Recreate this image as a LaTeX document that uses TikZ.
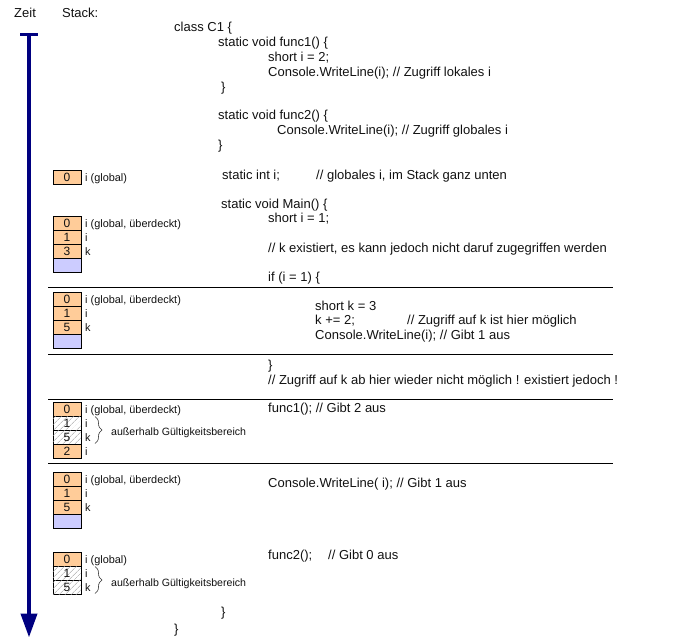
\documentclass[tikz,border=0pt]{standalone}
\usepackage{fontspec}
\setmainfont{Liberation Sans}
\usetikzlibrary{arrows.meta,patterns.meta,decorations.pathreplacing}
\definecolor{cellorange}{HTML}{FFCC99}
\definecolor{cellblue}{HTML}{CCCCFF}
\definecolor{timenavy}{HTML}{000080}
\definecolor{txt}{HTML}{111111}
\tikzset{
  code/.style={anchor=base west, inner sep=0pt, text=txt, font=\fontsize{13}{15}\selectfont},
  lbl/.style={anchor=base west, inner sep=0pt, text=txt, font=\fontsize{10.9}{12}\selectfont},
  note/.style={anchor=base west, inner sep=0pt, text=txt, font=\fontsize{10.6}{12}\selectfont},
  cell/.style={draw=black, line width=0.8pt, minimum width=28pt, minimum height=14pt, inner sep=0pt, anchor=north west, text=txt, font=\fontsize{12}{12}\selectfont},
  oc/.style={cell, fill=cellorange},
  bc/.style={cell, fill=cellblue},
  hc/.style={cell, fill=white, postaction={pattern={Lines[angle=45,distance=4pt,line width=0.5pt]}, pattern color=gray!75}},
  sep/.style={draw=black, line width=1pt},
  brc/.style={draw=black!80, line width=0.6pt, decorate, decoration={brace, amplitude=7pt}},
}
\begin{document}
\begin{tikzpicture}[x=1pt,y=-1pt]
\useasboundingbox (0,0) rectangle (680,643);
% time axis
\node[code] (zeit) at (14,17) {Zeit};
\node[code] (stack) at (62,17) {Stack:};
\coordinate (tstart) at (29,34.5);
\coordinate (tend) at (29,637.5);
\coordinate (barl) at (20,34.5);
\coordinate (barr) at (37.5,34.5);
\draw[timenavy, line width=4pt, -{Triangle[width=16pt,length=24pt]}] (tstart) -- (tend);
\draw[timenavy, line width=3pt] (barl) -- (barr);
% code
\node[code] (c1) at (174,31) {class C1 \{};
\node[code] (c2) at (218,46) {static void func1() \{};
\node[code] (c3) at (268,61) {short i = 2;};
\node[code] (c4) at (268,76) {Console.WriteLine(i); // Zugriff lokales i};
\node[code] (c5) at (221,91) {\}};
\node[code] (c6) at (218,119) {static void func2() \{};
\node[code] (c7) at (277,134) {Console.WriteLine(i); // Zugriff globales i};
\node[code] (c8) at (218,149) {\}};
\node[code] (c9) at (222,179) {static int i;};
\node[code] (c9b) at (316,179) {// globales i, im Stack ganz unten};
\node[code] (c10) at (221,208) {static void Main() \{};
\node[code] (c11) at (268,222.5) {short i = 1;};
\node[code] (c12) at (268,252) {// k existiert, es kann jedoch nicht daruf zugegriffen werden};
\node[code] (c13) at (268,281) {if (i = 1) \{};
\node[code] (c14) at (315,310) {short k = 3};
\node[code] (c15) at (315,324.5) {k += 2;};
\node[code] (c15b) at (407,324.5) {// Zugriff auf k ist hier möglich};
\node[code] (c16) at (315,339) {Console.WriteLine(i); // Gibt 1 aus};
\node[code] (c17) at (268,369) {\}};
\node[code] (c18) at (268,384) {// Zugriff auf k ab hier wieder nicht möglich ! existiert jedoch !};
\node[code] (c19) at (268,412.5) {func1(); // Gibt 2 aus};
\node[code] (c20) at (268,487) {Console.WriteLine( i); // Gibt 1 aus};
\node[code] (c21) at (268,559) {func2();};
\node[code] (c21b) at (328,559) {// Gibt 0 aus};
\node[code] (c22) at (221,616) {\}};
\node[code] (c23) at (174,633) {\}};
% separators
\foreach \yy/\nn in {287.5/a,354/b,399.5/c,463/d}{
  \coordinate (sl\nn) at (48,\yy);
  \coordinate (sr\nn) at (613,\yy);
  \draw[sep] (sl\nn) -- (sr\nn);
}
% group 1
\node[oc] (g1a) at (52.5,170) {0};
\node[lbl] (l1a) at (85,181.5) {i (global)};
% group 2
\node[oc] (g2a) at (52.5,216) {0};
\node[oc] (g2b) at (52.5,230) {1};
\node[oc] (g2c) at (52.5,244) {3};
\node[bc] (g2d) at (52.5,258) {};
\node[lbl] (l2a) at (85,227) {i (global, überdeckt)};
\node[lbl] (l2b) at (85,241) {i};
\node[lbl] (l2c) at (85,255) {k};
% group 3
\node[oc] (g3a) at (52.5,292) {0};
\node[oc] (g3b) at (52.5,306) {1};
\node[oc] (g3c) at (52.5,320) {5};
\node[bc] (g3d) at (52.5,334) {};
\node[lbl] (l3a) at (85,303) {i (global, überdeckt)};
\node[lbl] (l3b) at (85,317) {i};
\node[lbl] (l3c) at (85,331) {k};
% group 4
\node[oc] (g4a) at (52.5,402) {0};
\node[hc] (g4b) at (52.5,416) {1};
\node[hc] (g4c) at (52.5,430) {5};
\node[oc] (g4d) at (52.5,444) {2};
\node[lbl] (l4a) at (85,413) {i (global, überdeckt)};
\node[lbl] (l4b) at (85,427) {i};
\node[lbl] (l4c) at (85,441) {k};
\node[lbl] (l4d) at (85,455) {i};
\coordinate (b4t) at (95,416.5);
\coordinate (b4b) at (95,443.5);
\draw[brc] (b4t) -- (b4b);
\node[note] (n4) at (111,435) {außerhalb Gültigkeitsbereich};
% group 5
\node[oc] (g5a) at (52.5,472) {0};
\node[oc] (g5b) at (52.5,486) {1};
\node[oc] (g5c) at (52.5,500) {5};
\node[bc] (g5d) at (52.5,514) {};
\node[lbl] (l5a) at (85,483) {i (global, überdeckt)};
\node[lbl] (l5b) at (85,497) {i};
\node[lbl] (l5c) at (85,511) {k};
% group 6
\node[oc] (g6a) at (52.5,552) {0};
\node[hc] (g6b) at (52.5,566) {1};
\node[hc] (g6c) at (52.5,580) {5};
\node[lbl] (l6a) at (85,563) {i (global)};
\node[lbl] (l6b) at (85,577) {i};
\node[lbl] (l6c) at (85,591) {k};
\coordinate (b6t) at (95,566.5);
\coordinate (b6b) at (95,593.5);
\draw[brc] (b6t) -- (b6b);
\node[note] (n6) at (111,586) {außerhalb Gültigkeitsbereich};
\end{tikzpicture}
\end{document}
